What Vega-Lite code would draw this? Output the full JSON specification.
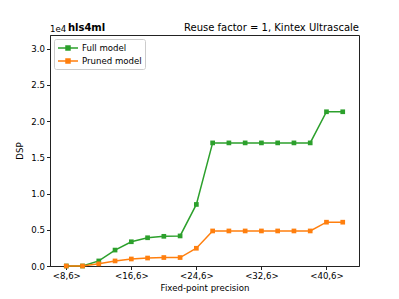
{
  "$schema": "https://vega.github.io/schema/vega-lite/v6.json",
  "width": 309,
  "height": 231,
  "autosize": {"type": "none"},
  "padding": {"left": 50, "top": 35, "right": 40, "bottom": 33},
  "background": "white",
  "config": {
    "font": "DejaVu Sans",
    "view": {"stroke": "#222", "strokeWidth": 1},
    "axis": {
      "grid": false,
      "domainColor": "#222",
      "tickColor": "#222",
      "tickSize": 3.5,
      "labelFontSize": 8.6,
      "labelColor": "#000",
      "titleFontSize": 8.6,
      "titleFontWeight": "normal",
      "titleColor": "#000",
      "labelPadding": 2,
      "labelOverlap": false
    }
  },
  "data": {
    "values": [
      {"bits": 8, "model": "Full model", "dsp": 0},
      {"bits": 10, "model": "Full model", "dsp": 0},
      {"bits": 12, "model": "Full model", "dsp": 700},
      {"bits": 14, "model": "Full model", "dsp": 2200},
      {"bits": 16, "model": "Full model", "dsp": 3350},
      {"bits": 18, "model": "Full model", "dsp": 3900},
      {"bits": 20, "model": "Full model", "dsp": 4100},
      {"bits": 22, "model": "Full model", "dsp": 4150},
      {"bits": 24, "model": "Full model", "dsp": 8500},
      {"bits": 26, "model": "Full model", "dsp": 17000},
      {"bits": 28, "model": "Full model", "dsp": 17000},
      {"bits": 30, "model": "Full model", "dsp": 17000},
      {"bits": 32, "model": "Full model", "dsp": 17000},
      {"bits": 34, "model": "Full model", "dsp": 17000},
      {"bits": 36, "model": "Full model", "dsp": 17000},
      {"bits": 38, "model": "Full model", "dsp": 17000},
      {"bits": 40, "model": "Full model", "dsp": 21300},
      {"bits": 42, "model": "Full model", "dsp": 21300},
      {"bits": 8, "model": "Pruned model", "dsp": 0},
      {"bits": 10, "model": "Pruned model", "dsp": 0},
      {"bits": 12, "model": "Pruned model", "dsp": 300},
      {"bits": 14, "model": "Pruned model", "dsp": 700},
      {"bits": 16, "model": "Pruned model", "dsp": 970},
      {"bits": 18, "model": "Pruned model", "dsp": 1100},
      {"bits": 20, "model": "Pruned model", "dsp": 1170},
      {"bits": 22, "model": "Pruned model", "dsp": 1170},
      {"bits": 24, "model": "Pruned model", "dsp": 2450},
      {"bits": 26, "model": "Pruned model", "dsp": 4840},
      {"bits": 28, "model": "Pruned model", "dsp": 4840},
      {"bits": 30, "model": "Pruned model", "dsp": 4840},
      {"bits": 32, "model": "Pruned model", "dsp": 4840},
      {"bits": 34, "model": "Pruned model", "dsp": 4840},
      {"bits": 36, "model": "Pruned model", "dsp": 4840},
      {"bits": 38, "model": "Pruned model", "dsp": 4840},
      {"bits": 40, "model": "Pruned model", "dsp": 6050},
      {"bits": 42, "model": "Pruned model", "dsp": 6050}
    ]
  },
  "layer": [
    {
      "mark": {"type": "line", "strokeWidth": 1.5, "point": {"shape": "square", "filled": true, "size": 22, "opacity": 1}},
      "encoding": {
        "x": {
          "field": "bits", "type": "quantitative",
          "scale": {"domain": [6, 44], "nice": false, "zero": false},
          "axis": {"values": [8, 16, 24, 32, 40], "tickCount": 10, "labelExpr": "'<' + datum.value + ',6>'", "title": "Fixed-point precision", "titlePadding": 3}
        },
        "y": {
          "field": "dsp", "type": "quantitative",
          "scale": {"domain": [0, 31900], "nice": false},
          "axis": {"values": [0, 5000, 10000, 15000, 20000, 25000, 30000], "tickCount": 20, "labelExpr": "format(datum.value / 10000, '.1f')", "title": "DSP", "titlePadding": 6}
        },
        "color": {
          "field": "model", "type": "nominal",
          "scale": {"domain": ["Full model", "Pruned model"], "range": ["#2ca02c", "#ff7f0e"]},
          "legend": {
            "title": null,
            "orient": "top-left",
            "offset": 4,
            "labelFontSize": 8.6,
            "labelColor": "#000",
            "labelOffset": 8,
            "symbolType": "M-2,0H2M-0.4,-0.4H0.4V0.4H-0.4Z",
            "symbolSize": 100,
            "symbolOffset": 5,
            "symbolStrokeWidth": 1.5,
            "strokeColor": "#ccc",
            "cornerRadius": 2,
            "padding": 3,
            "rowPadding": 2,
            "fillColor": "white",
            "encode": {"symbols": {"update": {"stroke": {"scale": "color", "field": "value"}, "fill": {"scale": "color", "field": "value"}}}}
          }
        }
      }
    },
    {
      "data": {"values": [{"t": "Reuse factor = 1, Kintex Ultrascale", "bx": 44, "by": 31900}]},
      "mark": {"type": "text", "align": "right", "baseline": "bottom", "dy": -2, "fontSize": 10, "color": "#000"},
      "encoding": {"x": {"field": "bx", "type": "quantitative"}, "y": {"field": "by", "type": "quantitative"}, "text": {"field": "t"}}
    },
    {
      "data": {"values": [{"t": "hls4ml", "bx": 8.2, "by": 31900}]},
      "mark": {"type": "text", "align": "left", "baseline": "bottom", "dy": -2, "fontSize": 10, "fontWeight": "bold", "color": "#000"},
      "encoding": {"x": {"field": "bx", "type": "quantitative"}, "y": {"field": "by", "type": "quantitative"}, "text": {"field": "t"}}
    },
    {
      "data": {"values": [{"t": "1e4", "bx": 6, "by": 31900}]},
      "mark": {"type": "text", "align": "left", "baseline": "bottom", "dy": -1, "fontSize": 8.6, "color": "#000"},
      "encoding": {"x": {"field": "bx", "type": "quantitative"}, "y": {"field": "by", "type": "quantitative"}, "text": {"field": "t"}}
    }
  ]
}
